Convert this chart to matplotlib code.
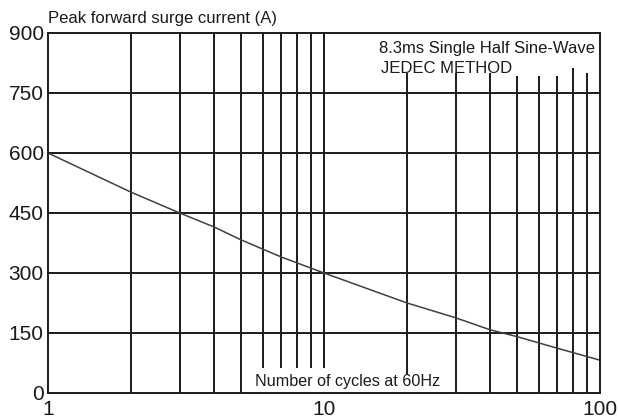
import matplotlib
matplotlib.use("Agg")
import matplotlib.pyplot as plt

# surge curve
cycles = [1, 2, 3, 4, 5, 7, 10, 20, 30, 40, 50, 70, 100]
current = [600, 502, 450, 415, 383, 340, 300, 225, 188, 158, 141, 112, 82]

y_ticks = [0, 150, 300, 450, 600, 750, 900]
x_ticks = [1, 10, 100]
x_tick_labels = ["1", "10", "100"]

# vertical grid lines (x, bottom, top) - some are cut short around the texts
vgrid = [
    (2, 0, 900), (3, 0, 900), (4, 0, 900), (5, 0, 900),
    (6, 62.5, 900), (7, 62.5, 900), (8, 62.5, 900), (9, 62.5, 900), (10, 62.5, 900),
    (20, 45, 800), (30, 0, 800), (40, 0, 800), (50, 0, 792.5),
    (60, 0, 792.5), (70, 0, 792.5), (80, 0, 812.5), (90, 0, 800),
]

plt.rcParams['font.family'] = ['Liberation Sans', 'DejaVu Sans']

fig = plt.figure(figsize=(6.19, 4.2), dpi=100)
ax = fig.add_axes([48/619, 27/420, 552/619, 360/420])

ax.set_xscale("log")
ax.set_xlim(1, 100)
ax.set_ylim(0, 900)

for xv, y0, y1 in vgrid:
    ax.vlines(xv, y0, y1, color="#1a1a1a", linewidth=1.4)
for yv in y_ticks[1:-1]:
    ax.axhline(yv, color="#1a1a1a", linewidth=1.4)

ax.plot(cycles, current, color="#404040", linewidth=1.1)

ax.set_yticks(y_ticks)
ax.set_xticks(x_ticks)
ax.set_xticklabels(x_tick_labels)
ax.minorticks_off()
ax.tick_params(length=0, labelsize=15, colors="#1a1a1a")
ax.tick_params(axis="y", pad=3)
ax.tick_params(axis="x", pad=5)
for s in ax.spines.values():
    s.set_linewidth(1.4)
    s.set_color("#1a1a1a")

ax.text(0, 1.028, "Peak forward surge current (A)", transform=ax.transAxes,
        fontsize=12, va="baseline", ha="left", color="#1a1a1a")
ax.text(0.991, 850, "8.3ms Single Half Sine-Wave",
        transform=ax.get_yaxis_transform(), fontsize=12, va="baseline", ha="right", color="#1a1a1a")
ax.text(0.603, 800, "JEDEC METHOD",
        transform=ax.get_yaxis_transform(), fontsize=12, va="baseline", ha="left", color="#1a1a1a")
ax.text(0.375, 17.5, "Number of cycles at 60Hz",
        transform=ax.get_yaxis_transform(), fontsize=11.6, va="baseline", ha="left", color="#1a1a1a")

fig.savefig("out.png", dpi=100)
